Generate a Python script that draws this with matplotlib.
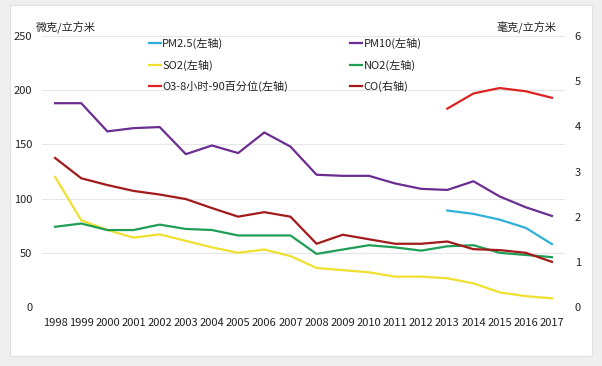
import numpy as np
import matplotlib.pyplot as plt
from matplotlib.patches import Rectangle

plt.rcParams['font.family'] = ['Noto Sans CJK SC', 'DejaVu Sans']

years = list(range(1998, 2018))
pm25 = [None] * 15 + [89, 85.9, 80.6, 73, 58]
pm10 = [188, 188, 162, 165, 166, 141, 149, 142, 161, 148,
        122, 121, 121, 114, 109, 108, 116, 102, 92, 84]
so2 = [120, 80, 71, 64, 67, 61, 55, 50, 53, 47,
       36, 34, 32, 28, 28, 26.5, 21.8, 13.5, 10, 8]
no2 = [74, 77, 71, 71, 76, 72, 71, 66, 66, 66,
       49, 53, 57, 55, 52, 56, 57, 50, 48, 46]
o3 = [None] * 15 + [183, 197, 202, 199, 193]
co = [3.3, 2.85, 2.7, 2.57, 2.49, 2.39, 2.19, 2.0, 2.1, 2.0,
      1.4, 1.6, 1.5, 1.4, 1.4, 1.45, 1.28, 1.26, 1.2, 1.0]


def arr(v):
    return np.array([np.nan if x is None else x for x in v], dtype=float)


fig = plt.figure(figsize=(6.02, 3.66), dpi=100)
fig.patch.set_facecolor('#efefef')
card = Rectangle((10 / 602, 1 - 356 / 366), 582 / 602, 351 / 366,
                 transform=fig.transFigure, facecolor='white',
                 edgecolor='#e2e2e2', linewidth=0.8, zorder=-10)
fig.add_artist(card)

ax = fig.add_axes([42 / 602, 1 - 307 / 366, 523 / 602, 271 / 366])
ax.set_facecolor('none')
ax2 = ax.twinx()

lw = 1.6
l1, = ax.plot(years, arr(pm25), color='#2fb0d8', lw=lw, label='PM2.5(左轴)')
l2, = ax.plot(years, arr(pm10), color='#6a2d91', lw=lw, label='PM10(左轴)')
l3, = ax.plot(years, arr(so2), color='#f0e030', lw=lw, label='SO2(左轴)')
l4, = ax.plot(years, arr(no2), color='#1f9e55', lw=lw, label='NO2(左轴)')
l5, = ax.plot(years, arr(o3), color='#dd2222', lw=lw, label='O3-8小时-90百分位(左轴)')
l6, = ax2.plot(years, arr(co), color='#a31a1a', lw=lw, label='CO(右轴)')

ax.set_xlim(1997.5, 2017.5)
ax.set_ylim(0, 250)
ax2.set_ylim(0, 6)
ax.set_yticks(range(0, 251, 50))
ax2.set_yticks(range(0, 7))
ax.set_xticks(years)
ax.grid(axis='y', color='#e6e6e6', lw=0.8)
ax.set_axisbelow(True)

for a in (ax, ax2):
    for s in a.spines.values():
        s.set_visible(False)
    a.tick_params(length=0, labelsize=8, colors='#222222')
ax.tick_params(axis='x', pad=8)
ax.tick_params(axis='y', pad=7)
ax2.tick_params(axis='y', pad=7)

fig.text(36 / 602, 1 - 28 / 366, '微克/立方米', fontsize=8, color='#222222', va='center')
fig.text(556 / 602, 1 - 28 / 366, '毫克/立方米', fontsize=8, color='#222222',
         va='center', ha='right')

leg = ax.legend([l1, l3, l5, l2, l4, l6],
                [h.get_label() for h in (l1, l3, l5, l2, l4, l6)],
                ncol=2, loc='upper left', bbox_to_anchor=(0.185, 1.03),
                frameon=False, fontsize=8, handlelength=1.1, handletextpad=0.1,
                labelspacing=0.95, columnspacing=5.6)
for t in leg.get_texts():
    t.set_color('#222222')

fig.savefig('out.png', dpi=100, facecolor=fig.get_facecolor())
